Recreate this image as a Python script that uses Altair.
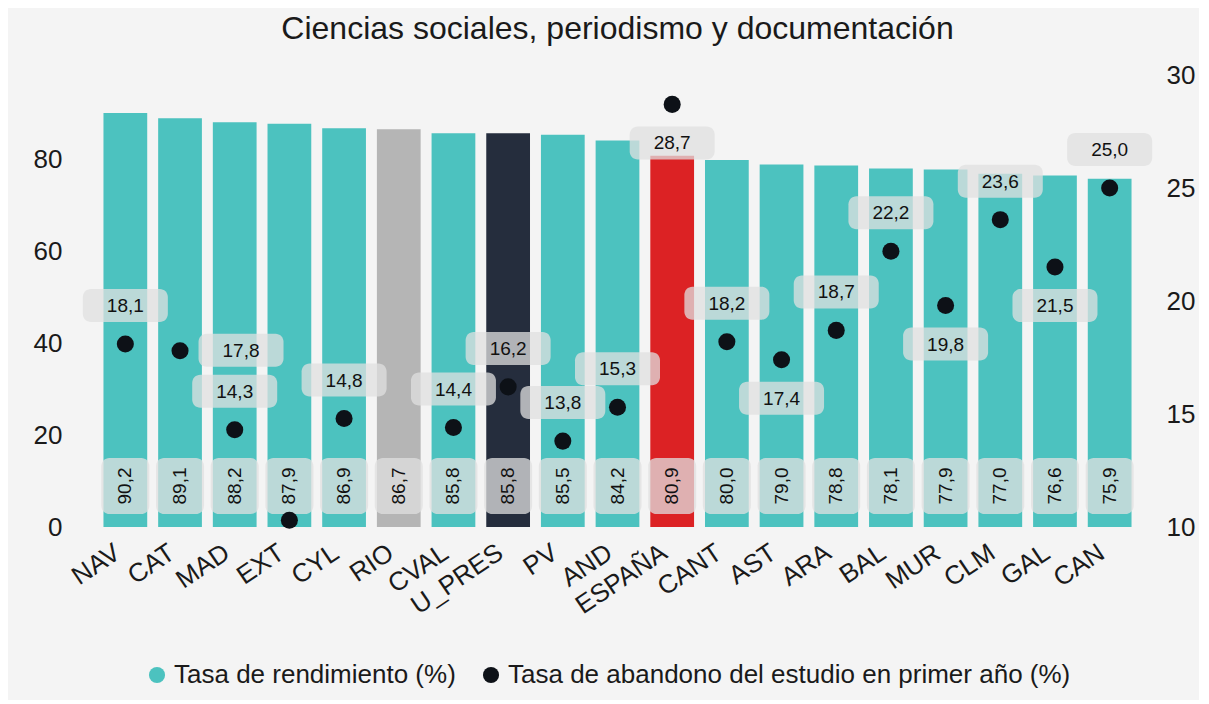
import altair as alt
import pandas as pd

titulo = "Ciencias sociales, periodismo y documentación"
categorias = ["NAV", "CAT", "MAD", "EXT", "CYL", "RIO", "CVAL", "U_PRES", "PV", "AND",
              "ESPAÑA", "CANT", "AST", "ARA", "BAL", "MUR", "CLM", "GAL", "CAN"]
rendimiento = [90.2, 89.1, 88.2, 87.9, 86.9, 86.7, 85.8, 85.8, 85.5, 84.2,
               80.9, 80.0, 79.0, 78.8, 78.1, 77.9, 77.0, 76.6, 75.9]
abandono = [18.1, 17.8, 14.3, 10.3, 14.8, None, 14.4, 16.2, 13.8, 15.3,
            28.7, 18.2, 17.4, 18.7, 22.2, 19.8, 23.6, 21.5, 25.0]
mostrar_etiqueta = [True, True, True, False, True, False, True, True, True, True,
                    True, True, True, True, True, True, True, True, True]
serie_rend = "Tasa de rendimiento (%)"
serie_aband = "Tasa de abandono del estudio en primer año (%)"
ticks_izq = [0, 20, 40, 60, 80]
ticks_der = [10, 15, 20, 25, 30]

# styles
TEAL = "#4cc2bf"
DOT = "#0d1117"
TXT = "#1a1a1a"
colores_especiales = {"RIO": "#b5b5b5", "U_PRES": "#252d3d", "ESPAÑA": "#dc2224"}
colocacion = {"CAT": "derecha", "ESPAÑA": "debajo", "AST": "debajo", "MUR": "debajo", "GAL": "debajo"}
FONT = "Liberation Sans"
BOX = "#e0e0e0"

df = pd.DataFrame({
    "cat": categorias,
    "rend": rendimiento,
    "aband": abandono,
    "mostrar": mostrar_etiqueta,
})
df["pos"] = [colocacion.get(c, "encima") for c in categorias]
df["zero"] = 0.0

base = alt.Chart(df)
x = alt.X("cat:N", sort=categorias, title=None,
          scale=alt.Scale(paddingInner=0.2, paddingOuter=0.1),
          axis=alt.Axis(labelAngle=-34, labelFontSize=26, labelFont=FONT, labelColor=TXT,
                        domain=False, ticks=False, labelOverlap=False,
                        labelPadding=12, labelOffset=-15))

axis_izq = alt.Axis(orient="left", values=ticks_izq, labelFontSize=26, labelFont=FONT, title=None,
                    labelColor=TXT, domain=False, ticks=False, grid=False, labelPadding=36)
axis_der = alt.Axis(orient="right", values=ticks_der, labelFontSize=26, labelFont=FONT, title=None,
                    labelColor=TXT, domain=False, ticks=False, grid=False, labelPadding=29)
sc_izq = alt.Scale(domain=[0, 98.5], nice=False, zero=True)
sc_der = alt.Scale(domain=[10, 30], nice=False, zero=False)

cond = [{"test": f"datum.cat === '{k}'", "value": v} for k, v in colores_especiales.items()]
color_scale = alt.Scale(domain=[serie_rend, serie_aband], range=[TEAL, DOT])
legend = alt.Legend(title=None, orient="none", direction="horizontal", legendX=46, legendY=587,
                    symbolType="circle", symbolSize=260, labelFontSize=26,
                    labelFont=FONT, labelColor=TXT, labelLimit=900,
                    columnPadding=22, labelOffset=4)
color_enc = alt.Color("serie:N", scale=color_scale, legend=legend, condition=cond)

bars = base.transform_calculate(serie=f"'{serie_rend}'").mark_bar(opacity=1).encode(
    x=x, y=alt.Y("rend:Q", scale=sc_izq, axis=axis_izq), color=color_enc)

bar_box = base.mark_bar(width=48, cornerRadius=8, color=BOX, opacity=0.75,
                        yOffset=-69, y2Offset=-13).encode(
    x=x, y=alt.Y("zero:Q", scale=sc_izq, axis=axis_izq), y2="zero:Q")

bar_txt = base.transform_calculate(
    lbl="replace(format(datum.rend, '.1f'), '.', ',')"
).mark_text(angle=270, fontSize=19, font=FONT, color="#111111", yOffset=-41).encode(
    x=x, y=alt.Y("zero:Q", scale=sc_izq, axis=axis_izq), text="lbl:N")

left = alt.layer(bars, bar_box, bar_txt)

pts_base = base.transform_filter("isValid(datum.aband)")
dots = pts_base.transform_calculate(serie=f"'{serie_aband}'").mark_circle(size=290, opacity=1).encode(
    x=x, y=alt.Y("aband:Q", scale=sc_der, axis=axis_der),
    color=alt.Color("serie:N", scale=color_scale, legend=legend))

offsets = {
    "encima": dict(xo=0, y1=-55, y2=-22, ty=-38),
    "debajo": dict(xo=0, y1=22, y2=55, ty=39),
    "derecha": dict(xo=61, y1=-17, y2=16, ty=0),
}

lab_layers = []
for pos, o in offsets.items():
    sub = pts_base.transform_filter(f"datum.mostrar && datum.pos === '{pos}'").transform_calculate(
        lbl="replace(format(datum.aband, '.1f'), '.', ',')")
    box = sub.mark_bar(width=85, cornerRadius=8, color=BOX, opacity=0.75,
                       xOffset=o["xo"], yOffset=o["y1"], y2Offset=o["y2"]).encode(
        x=x, y=alt.Y("aband:Q", scale=sc_der, axis=axis_der), y2="aband:Q")
    txt = sub.mark_text(fontSize=19, font=FONT, color="#111111",
                        xOffset=o["xo"], yOffset=o["ty"]).encode(
        x=x, y=alt.Y("aband:Q", scale=sc_der, axis=axis_der), text="lbl:N")
    lab_layers += [box, txt]

right = alt.layer(dots, *lab_layers)

chart = alt.layer(left, right).resolve_scale(y="independent").properties(
    width=1039, height=452,
    padding={"left": 90, "right": 62, "top": 67, "bottom": 173},
    autosize=alt.AutoSizeParams(type="none"),
    background="#f4f4f4",
    title=alt.Title(titulo, fontSize=32, font=FONT, fontWeight="normal", color=TXT,
                    anchor="middle", offset=16),
).configure_view(stroke=None)

chart.save("out.html", embed_options={"renderer": "svg", "actions": False})
